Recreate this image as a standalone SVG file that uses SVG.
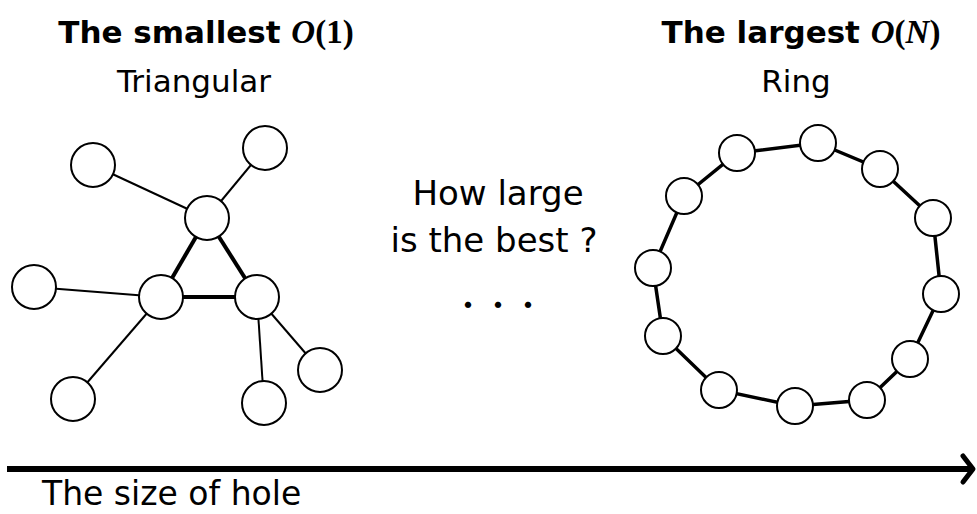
<svg xmlns="http://www.w3.org/2000/svg" width="977" height="514" viewBox="0 0 977 514">
<style>
.t{font-family:"DejaVu Sans",Verdana,sans-serif;fill:#000}
.b{font-weight:bold}
.m{font-family:"Liberation Serif","Times New Roman",serif;font-weight:bold}
.node{fill:#fff;stroke:#000;stroke-width:2}
.thin{stroke:#000;stroke-width:2;fill:none}
.thick{stroke:#000;stroke-width:4;fill:none}
.ring{stroke:#000;stroke-width:3.5;fill:none}
</style>
<rect width="977" height="514" fill="#fff"/>
<text class="t b" x="206" y="43" font-size="31" text-anchor="middle">The smallest <tspan class="m" font-style="italic" font-size="33">O</tspan><tspan class="m" font-weight="normal" font-size="33">(</tspan><tspan class="m" font-size="33">1</tspan><tspan class="m" font-weight="normal" font-size="33">)</tspan></text>
<text class="t" x="194" y="92" font-size="31" text-anchor="middle">Triangular</text>
<text class="t b" x="801" y="43" font-size="31" text-anchor="middle">The largest <tspan class="m" font-style="italic" font-size="33">O</tspan><tspan class="m" font-weight="normal" font-size="33">(</tspan><tspan class="m" font-style="italic" font-size="33">N</tspan><tspan class="m" font-weight="normal" font-size="33">)</tspan></text>
<text class="t" x="796" y="92" font-size="31" text-anchor="middle">Ring</text>
<text class="t" x="498" y="205" font-size="34" text-anchor="middle">How large</text>
<text class="t" x="494" y="252" font-size="34" text-anchor="middle">is the best ?</text>
<text x="498" y="316" font-size="30" text-anchor="middle" font-family="'Noto Sans CJK JP',sans-serif">・・・</text>
<text class="t" x="42" y="505" font-size="33">The size of hole</text>
<g id="connectors">
<line class="thin" x1="93" y1="165" x2="207" y2="218"/>
<line class="thin" x1="265" y1="148" x2="207" y2="218"/>
<line class="thin" x1="34" y1="287" x2="161" y2="297"/>
<line class="thin" x1="73" y1="399" x2="161" y2="297"/>
<line class="thin" x1="264" y1="403" x2="257" y2="297"/>
<line class="thin" x1="320" y1="370" x2="257" y2="297"/>
<line class="thick" x1="207" y1="218" x2="161" y2="297"/>
<line class="thick" x1="207" y1="218" x2="257" y2="297"/>
<line class="thick" x1="161" y1="297" x2="257" y2="297"/>
<polygon class="ring" points="818,143 880,169 933,218 941,294 910,359 867,400 795,406 719,390 663,336 653,268 684,196 737,153"/>
<line x1="7" y1="469" x2="970" y2="469" stroke="#000" stroke-width="6"/>
<polyline points="963,456 973,469 963,482" fill="none" stroke="#000" stroke-width="5" stroke-linecap="round" stroke-linejoin="round"/>
</g>
<g id="tri-leaf-tl"><circle class="node" cx="93" cy="165" r="22"/></g>
<g id="tri-leaf-tr"><circle class="node" cx="265" cy="148" r="22"/></g>
<g id="tri-hub-top"><circle class="node" cx="207" cy="218" r="22"/></g>
<g id="tri-hub-left"><circle class="node" cx="161" cy="297" r="22"/></g>
<g id="tri-hub-right"><circle class="node" cx="257" cy="297" r="22"/></g>
<g id="tri-leaf-l"><circle class="node" cx="34" cy="287" r="22"/></g>
<g id="tri-leaf-bl"><circle class="node" cx="73" cy="399" r="22"/></g>
<g id="tri-leaf-bm"><circle class="node" cx="264" cy="403" r="22"/></g>
<g id="tri-leaf-r"><circle class="node" cx="320" cy="370" r="22"/></g>
<g id="ring-1"><circle class="node" cx="818" cy="143" r="18"/></g>
<g id="ring-2"><circle class="node" cx="880" cy="169" r="18"/></g>
<g id="ring-3"><circle class="node" cx="933" cy="218" r="18"/></g>
<g id="ring-4"><circle class="node" cx="941" cy="294" r="18"/></g>
<g id="ring-5"><circle class="node" cx="910" cy="359" r="18"/></g>
<g id="ring-6"><circle class="node" cx="867" cy="400" r="18"/></g>
<g id="ring-7"><circle class="node" cx="795" cy="406" r="18"/></g>
<g id="ring-8"><circle class="node" cx="719" cy="390" r="18"/></g>
<g id="ring-9"><circle class="node" cx="663" cy="336" r="18"/></g>
<g id="ring-10"><circle class="node" cx="653" cy="268" r="18"/></g>
<g id="ring-11"><circle class="node" cx="684" cy="196" r="18"/></g>
<g id="ring-12"><circle class="node" cx="737" cy="153" r="18"/></g>
</svg>
